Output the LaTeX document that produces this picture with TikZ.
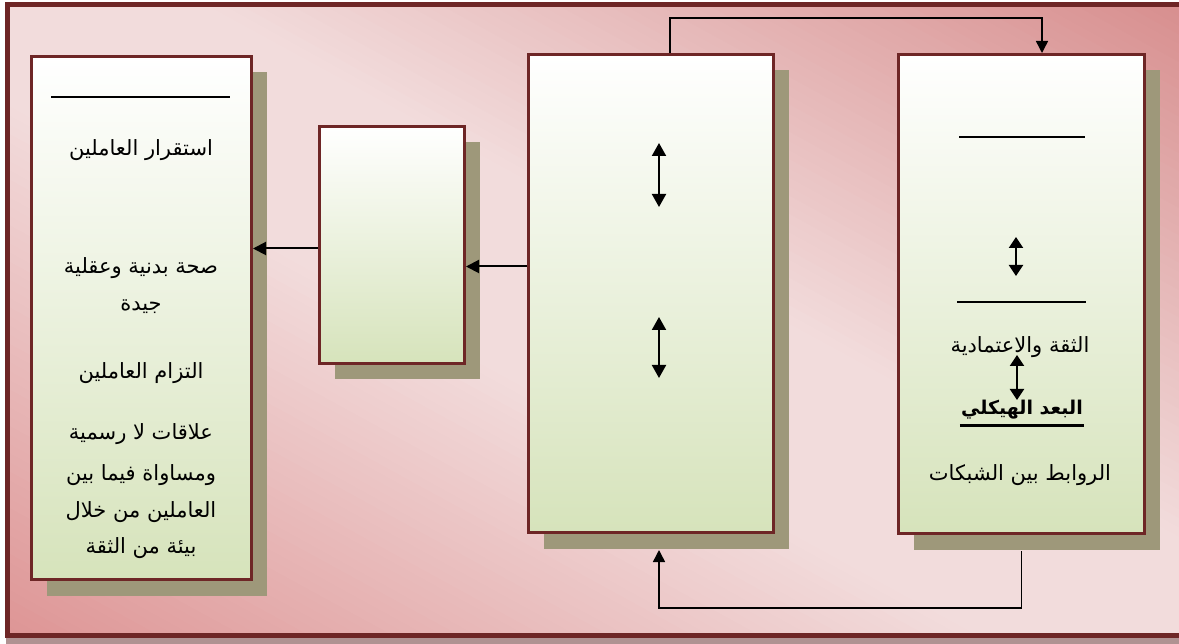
\documentclass[tikz,border=0pt]{standalone}
\usepackage{fontspec}
\newfontfamily\arabicfont[Script=Arabic]{DejaVu Sans}
\TeXXeTstate=1
\usetikzlibrary{arrows.meta,shadows}
\definecolor{framec}{RGB}{110,38,38}
\definecolor{bgdark}{RGB}{216,144,144}
\definecolor{bglight}{RGB}{242,220,220}
\definecolor{bgdark2}{RGB}{222,150,150}
\definecolor{boxgreen}{RGB}{214,227,187}
\definecolor{shadowc}{RGB}{158,152,122}
\definecolor{fshadow}{RGB}{176,146,146}
\tikzset{
  box/.style={draw=framec, line width=3pt, shading=axis, top color=white, middle color=white!55!boxgreen, bottom color=boxgreen, inner sep=0pt,
    drop shadow={shadow xshift=15pt, shadow yshift=-16pt, fill=shadowc, opacity=1}},
  conn/.style={draw=black, line width=2pt},
  thin conn/.style={draw=black, line width=1.5pt},
  tip/.style={-{Triangle[width=13pt,length=13pt]}},
  dbl/.style={draw=black, line width=2pt, {Triangle[width=14pt,length=13pt]}-{Triangle[width=14pt,length=13pt]}},
  sdbl/.style={draw=black, line width=2pt, {Triangle[width=14pt,length=11pt]}-{Triangle[width=14pt,length=11pt]}},
  bar/.style={draw=black, line width=2.5pt},
  lbl/.style={font=\arabicfont\fontsize{21}{25}\selectfont, inner sep=1pt},
  blbl/.style={font=\arabicfont\bfseries\fontsize{19}{23}\selectfont, inner sep=1pt}
}
\begin{document}
\begin{tikzpicture}[x=1pt,y=-1pt]
\useasboundingbox (0,0) rectangle (1179,644);
% frame shadow
\fill[fshadow] (6,636) rectangle (1179,644);
% background: diagonal bands, light along the main diagonal, dark toward top-right and bottom-left
\begin{scope}
\clip (7,4.5) rectangle (1190,635);
\fill[bglight] (7,4.5) rectangle (1190,635);
\foreach \i in {-74,...,74}{
  \pgfmathsetmacro{\ta}{\i*8-4.6}
  \pgfmathsetmacro{\tb}{\i*8+4.6}
  \pgfmathsetmacro{\f}{min(100,max(0,(abs(\i*8)-90)/4.6))}
  \ifnum\i<0 \def\dc{bgdark2}\else\def\dc{bgdark}\fi
  \fill[\dc!\f!bglight]
    ({593+\ta*0.48-1400*0.878},{320-\ta*0.878-1400*0.48}) --
    ({593+\ta*0.48+1400*0.878},{320-\ta*0.878+1400*0.48}) --
    ({593+\tb*0.48+1400*0.878},{320-\tb*0.878+1400*0.48}) --
    ({593+\tb*0.48-1400*0.878},{320-\tb*0.878-1400*0.48}) -- cycle;
}
\end{scope}
\draw[framec, line width=5pt] (1190,4.5) -- (7,4.5) -- (7,635) -- (1190,635);

% boxes
\node[box, minimum width=220pt, minimum height=523pt] (A) at (141.5,318) {};
\node[box, minimum width=145pt, minimum height=237pt] (B) at (392,245) {};
\node[box, minimum width=245pt, minimum height=478pt] (C) at (651,293.5) {};
\node[box, minimum width=246pt, minimum height=479pt] (D) at (1021.5,294) {};

% inner bars
\coordinate (a1) at (51,97); \coordinate (a2) at (230,97);
\draw[bar] (a1) -- (a2);
\coordinate (d1) at (959,137); \coordinate (d2) at (1085,137);
\draw[bar] (d1) -- (d2);
\coordinate (d3) at (957,302); \coordinate (d4) at (1086,302);
\draw[bar] (d3) -- (d4);

% double arrows
\coordinate (c1) at (659,143); \coordinate (c2) at (659,207);
\draw[dbl] (c1) -- (c2);
\coordinate (c3) at (659,317); \coordinate (c4) at (659,378);
\draw[dbl] (c3) -- (c4);
\coordinate (e1) at (1016,237); \coordinate (e2) at (1016,276);
\draw[sdbl] (e1) -- (e2);

% texts box A
\node[lbl] (t1) at (141,150) {\beginR استقرار العاملين\endR};
\node[lbl] (t2) at (141,268) {\beginR صحة بدنية وعقلية\endR};
\node[lbl] (t3) at (141,307) {\beginR جيدة\endR};
\node[lbl] (t4) at (141,373) {\beginR التزام العاملين\endR};
\node[lbl] (t5) at (141,434) {\beginR علاقات لا رسمية\endR};
\node[lbl] (t6) at (141,475) {\beginR ومساواة فيما بين\endR};
\node[lbl] (t7) at (141,512) {\beginR العاملين من خلال\endR};
\node[lbl] (t8) at (141,548) {\beginR بيئة من الثقة\endR};

% texts box D
\node[lbl] (u1) at (1020,347) {\beginR الثقة والاعتمادية\endR};
\node[blbl] (u2) at (1022,410) {\beginR البعد الهيكلي\endR};
\draw[black, line width=2.5pt] ([yshift=-5pt]u2.south west) -- ([yshift=-5pt]u2.south east);
\node[lbl] (u3) at (1020,475) {\beginR الروابط بين الشبكات\endR};

\coordinate (e3) at (1017,355); \coordinate (e4) at (1017,400);
\draw[sdbl] (e3) -- (e4);

% connectors
\draw[conn, tip] ([yshift=27pt]C.west) -- ([yshift=27pt]C.west -| B.east);
\draw[conn, tip] ([yshift=-3.5pt]B.west) -- ([yshift=-3.5pt]B.west -| A.east);
\coordinate (topy) at (0,18);
\draw[thin conn, -{Triangle[width=12pt,length=12pt]}] ([xshift=19pt]C.north) -- ([xshift=19pt]C.north |- topy) -| ([xshift=20.5pt]D.north);
\coordinate (boty) at (0,592);
\draw[thin conn, -{Triangle[width=12pt,length=12pt]}] ([yshift=-16pt]D.south) -- ([yshift=-16pt]D.south |- boty) -| ([xshift=8pt,yshift=-16pt]C.south);
\end{tikzpicture}
\end{document}
